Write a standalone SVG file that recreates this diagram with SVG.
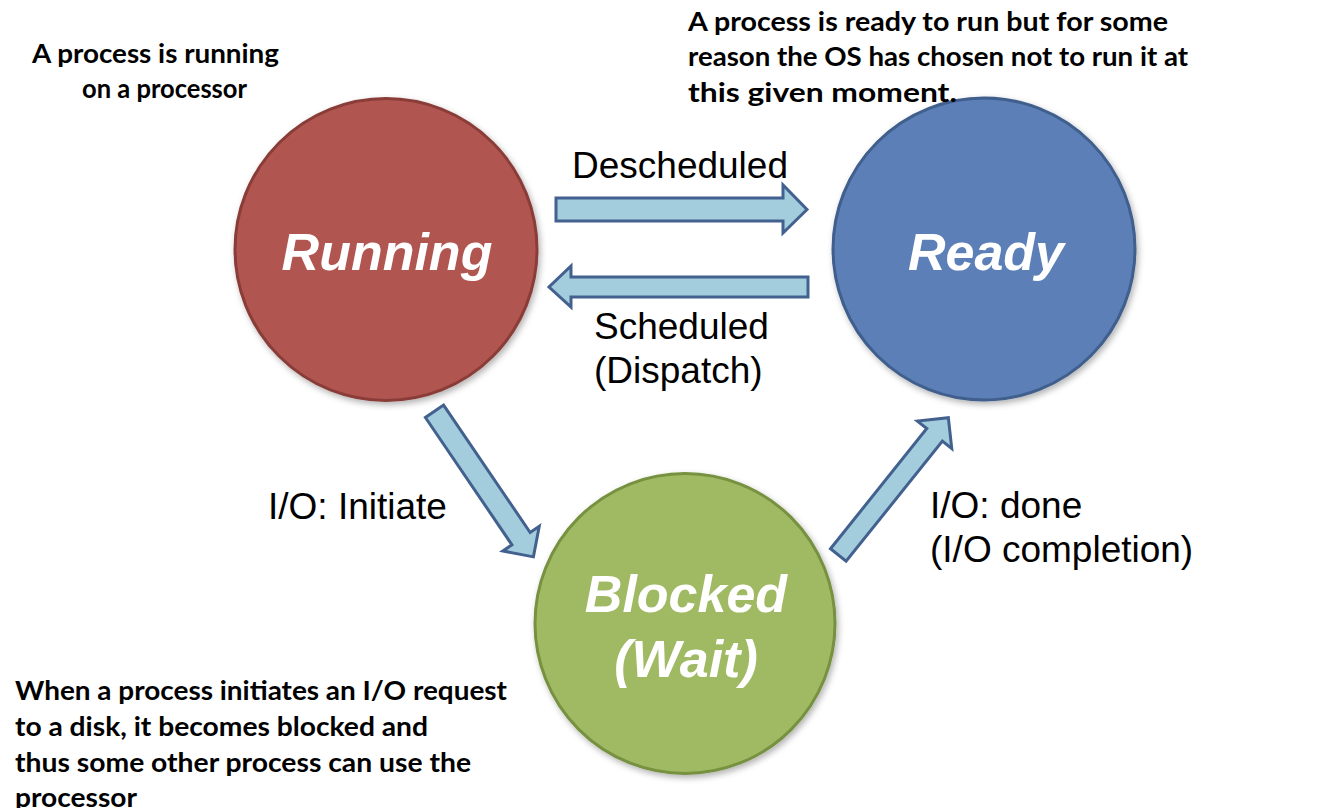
<svg xmlns="http://www.w3.org/2000/svg" width="1326" height="808" viewBox="0 0 1326 808">
  <defs>
    <filter id="shadow" x="-20%" y="-20%" width="140%" height="140%">
      <feDropShadow dx="2" dy="3" stdDeviation="3" flood-color="#000" flood-opacity="0.3"/>
    </filter>
  </defs>
  <style>
    .state { stroke-width: 3; filter: url(#shadow); }
    .state-label { font-family: "Liberation Sans", Arial, sans-serif; font-weight: bold; font-style: italic; font-size: 52px; fill: #ffffff; text-anchor: middle; }
    .arrow { fill: #A3CCDC; stroke: #43618F; stroke-width: 3; stroke-linejoin: miter; }
    .edge-label { font-family: "Liberation Sans", Arial, sans-serif; font-size: 37px; fill: #000000; }
    .note { font-family: Lato, "Open Sans", sans-serif; font-weight: bold; font-size: 27px; fill: #000000; }
  </style>
  <rect width="1326" height="808" fill="#ffffff"/>

  <g id="connectors">
    <polygon id="descheduled" class="arrow" points="556,198 783,198 783,185 807,209.5 783,233 783,221 556,221"/>
    <polygon id="scheduled" class="arrow" points="808,277 571,277 571,266 549,287 571,307 571,297 808,297"/>
    <polygon id="io-initiate" class="arrow" transform="translate(434.5,411.3) rotate(55.8)" points="0,-11 154,-11 154,-22 176,0 154,22 154,11 0,11"/>
    <polygon id="io-done" class="arrow" transform="translate(838.3,555) rotate(-51.3)" points="0,-10 154,-10 154,-22 176,0 154,22 154,10 0,10"/>
    <text class="edge-label" x="572" y="178">Descheduled</text>
    <text class="edge-label" x="594" y="339">Scheduled</text>
    <text class="edge-label" x="594" y="383">(Dispatch)</text>
    <text class="edge-label" x="268" y="519">I/O: Initiate</text>
    <text class="edge-label" x="930" y="518">I/O: done</text>
    <text class="edge-label" x="930" y="562">(I/O completion)</text>
  </g>

  <g id="running">
    <circle class="state" cx="386" cy="249.5" r="151" fill="#B0554F" stroke="#8A3D38"/>
    <text class="state-label" x="387" y="270">Running</text>
  </g>
  <g id="ready">
    <circle class="state" cx="984" cy="249" r="151" fill="#5B7FB7" stroke="#3F5E8C"/>
    <text class="state-label" x="986" y="270">Ready</text>
  </g>
  <g id="blocked">
    <circle class="state" cx="685" cy="623.5" r="150" fill="#A0B964" stroke="#76913F"/>
    <text class="state-label" x="686" y="612">Blocked</text>
    <text class="state-label" x="686" y="677">(Wait)</text>
  </g>

  <g id="note-running">
    <text class="note" x="32" y="63" textLength="247" lengthAdjust="spacingAndGlyphs">A process is running</text>
    <text class="note" x="82" y="98" textLength="165" lengthAdjust="spacingAndGlyphs">on a processor</text>
  </g>
  <g id="note-ready">
    <text class="note" x="688" y="31" textLength="480" lengthAdjust="spacingAndGlyphs">A process is ready to run but for some</text>
    <text class="note" x="688" y="66" textLength="500" lengthAdjust="spacingAndGlyphs">reason the OS has chosen not to run it at</text>
    <text class="note" x="688" y="102" textLength="269" lengthAdjust="spacingAndGlyphs">this given moment.</text>
  </g>
  <g id="note-blocked">
    <text class="note" x="15" y="700" textLength="492" lengthAdjust="spacingAndGlyphs">When a process initiates an I/O request</text>
    <text class="note" x="15" y="736" textLength="413" lengthAdjust="spacingAndGlyphs">to a disk, it becomes blocked and</text>
    <text class="note" x="15" y="772" textLength="456" lengthAdjust="spacingAndGlyphs">thus some other process can use the</text>
    <text class="note" x="15" y="807" textLength="122" lengthAdjust="spacingAndGlyphs">processor</text>
  </g>
</svg>
